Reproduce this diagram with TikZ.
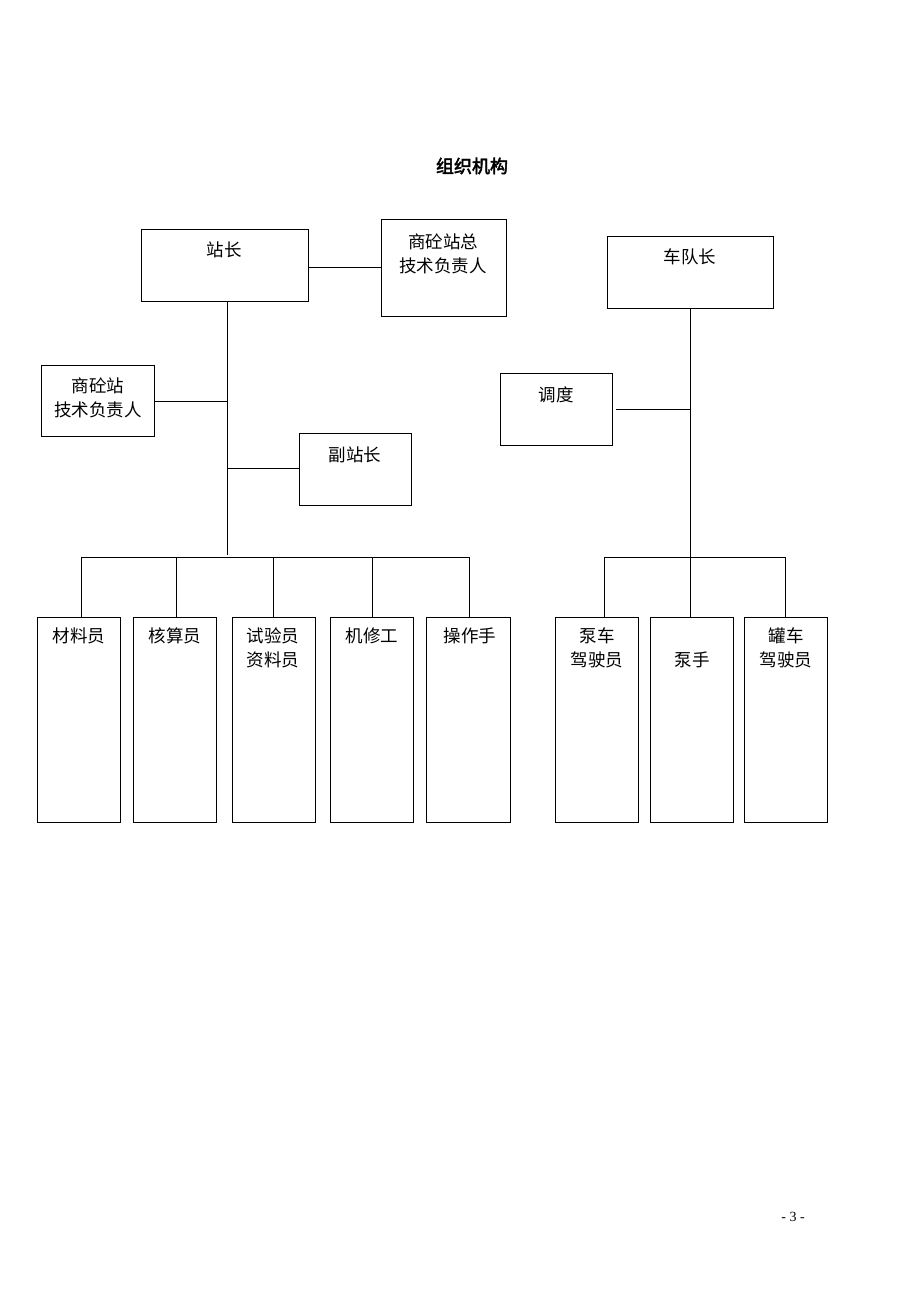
\documentclass[tikz,border=0pt]{standalone}
\usepackage{fontspec}
\newfontfamily\cjk[AutoFakeBold=2.5]{Noto Sans CJK SC}
\setmainfont{Liberation Serif}
\begin{document}
\begin{tikzpicture}[x=1pt,y=-1pt,
  boxst/.style={draw=black,line width=1pt,fill=white},
  lab/.style={font=\cjk\fontsize{17.5}{24}\selectfont,inner sep=0pt,align=center,anchor=center},
  conn/.style={draw=black,line width=1pt}]
\useasboundingbox[fill=white] (0,0) rectangle (920,1302);
\newcommand{\orgbox}[5]{%
  \path[boxst] (#2,#3) rectangle (#4,#5);
  \coordinate (#1) at ({(#2+#4)/2},{(#3+#5)/2});
  \coordinate (#1-n) at ({(#2+#4)/2},#3);
  \coordinate (#1-s) at ({(#2+#4)/2},#5);
  \coordinate (#1-w) at (#2,{(#3+#5)/2});
  \coordinate (#1-e) at (#4,{(#3+#5)/2});
}
% title
\node[font=\cjk\bfseries\fontsize{18}{20}\selectfont,inner sep=0pt] (title) at (472,166) {组织机构};
% boxes
\orgbox{zz}{141}{229}{308}{301}
\node[lab] (tzz) at (224,250) {站长};
\orgbox{zj}{381}{219}{506}{316}
\node[lab] (tzj) at (443,254) {商砼站总\\技术负责人};
\orgbox{js}{41}{365}{154}{436}
\node[lab] (tjs) at (98,398) {商砼站\\技术负责人};
\orgbox{fz}{299}{433}{411}{505}
\node[lab] (tfz) at (355,455) {副站长};
\orgbox{cd}{607}{236}{773}{308}
\node[lab] (tcd) at (690,257) {车队长};
\orgbox{dd}{500}{373}{612}{445}
\node[lab] (tdd) at (556,395) {调度};
% bottom boxes
\orgbox{b1}{37}{617}{120}{822}
\node[lab] (tb1) at (79,636) {材料员};
\orgbox{b2}{133}{617}{216}{822}
\node[lab] (tb2) at (175,636) {核算员};
\orgbox{b3}{232}{617}{315}{822}
\node[lab] (tb3) at (273,648) {试验员\\资料员};
\orgbox{b4}{330}{617}{413}{822}
\node[lab] (tb4) at (372,636) {机修工};
\orgbox{b5}{426}{617}{510}{822}
\node[lab] (tb5) at (470,636) {操作手};
\orgbox{r1}{555}{617}{638}{822}
\node[lab] (tr1) at (597,648) {泵车\\驾驶员};
\orgbox{r2}{650}{617}{733}{822}
\node[lab] (tr2) at (692,660) {泵手};
\orgbox{r3}{744}{617}{827}{822}
\node[lab] (tr3) at (786,648) {罐车\\驾驶员};
% connectors left
\coordinate (sp) at (227,301);
\coordinate (bus) at (227,555);
\draw[conn] (sp) -- (bus);
\draw[conn] (308,267) -- (381,267);
\draw[conn] (js-e |- 0,401) -- (227,401);
\draw[conn] (227,468) -- (fz-w |- 0,468);
\draw[conn] (81,617) -- (81,557) -- (469,557) -- (469,617);
\draw[conn] (176,557) -- (176,617);
\draw[conn] (273,557) -- (273,617);
\draw[conn] (372,557) -- (372,617);
% connectors right
\draw[conn] (cd-s -| 690,0) -- (690,557);
\draw[conn] (616,409) -- (690,409);
\draw[conn] (604,617) -- (604,557) -- (785,557) -- (785,617);
\draw[conn] (690,557) -- (690,617);
% page number
\node[font=\fontsize{14}{16}\selectfont,inner sep=0pt] (pg) at (793,1217) {- 3 -};
\end{tikzpicture}
\end{document}
